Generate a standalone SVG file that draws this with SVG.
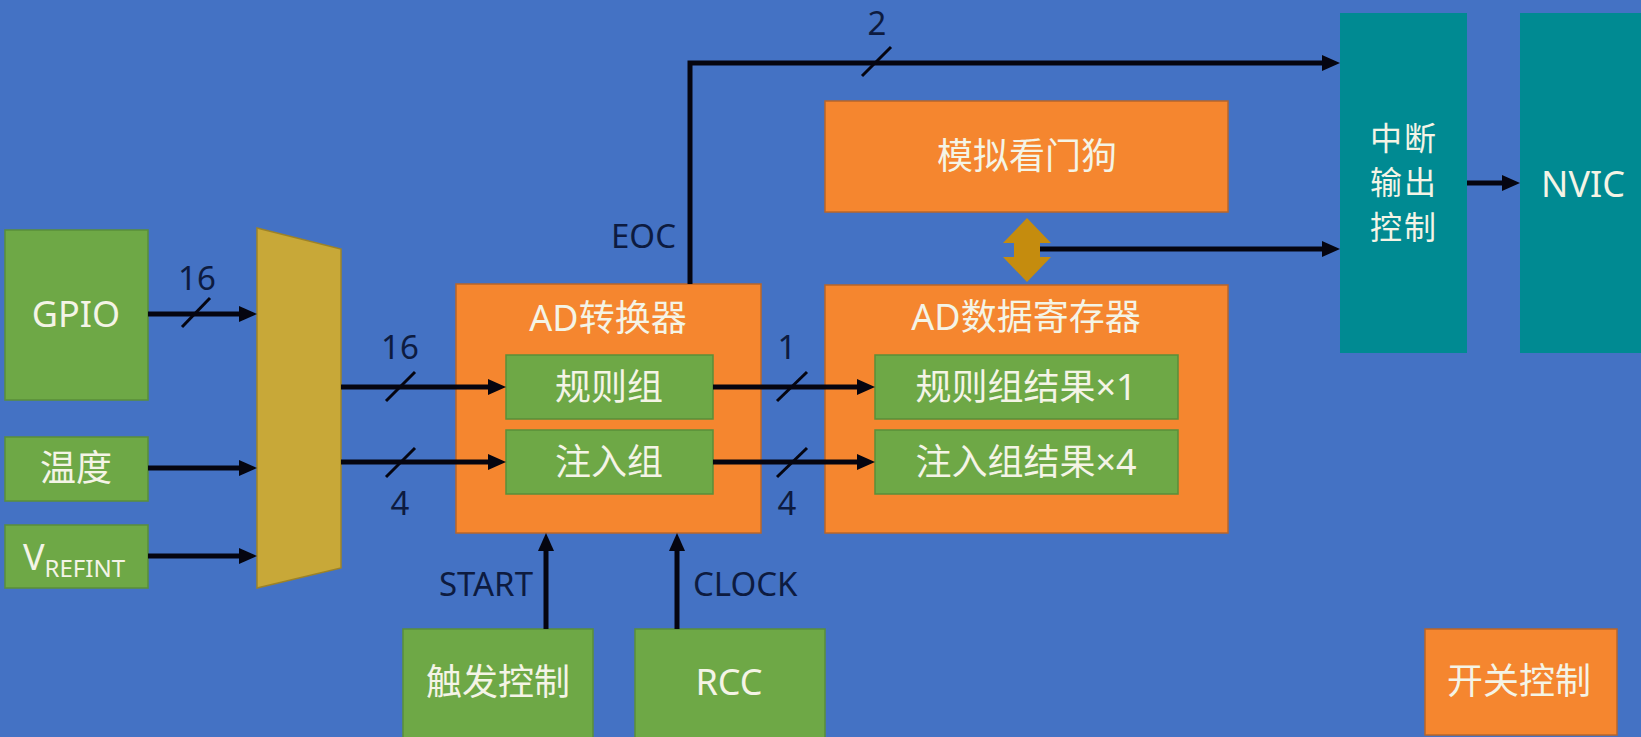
<svg xmlns="http://www.w3.org/2000/svg" width="1641" height="737" viewBox="0 0 1641 737">
<style>
.bg{fill:#4472C4}
.green{fill:#6EA846;stroke:#5A8E3A;stroke-width:1.5}
.orange{fill:#F5862F;stroke:#B8662A;stroke-width:1.5}
.teal{fill:#008A92}
.t{font-family:"Noto Sans","Noto Sans CJK SC",sans-serif;font-size:36px;fill:#F4F4E6;text-anchor:middle}
.tv{font-family:"Noto Sans CJK SC",sans-serif;font-size:32px;fill:#F4F4E6;text-anchor:middle;letter-spacing:2px}
.lbl{font-family:"Noto Sans","Noto Sans CJK SC",sans-serif;font-size:33px;fill:#0D1B40}
.wire{fill:none;stroke:#050510;stroke-width:5}
.slash{fill:none;stroke:#050510;stroke-width:3}
</style>
<defs>
<marker id="ah" markerUnits="userSpaceOnUse" markerWidth="20" markerHeight="18" refX="5" refY="9" orient="auto">
<path d="M0,1 L18,9 L0,17 z" fill="#050510"/>
</marker>
</defs>
<rect class="bg" x="0" y="0" width="1641" height="737"/>

<g id="gpio"><rect class="green" x="5" y="230" width="143" height="170"/><text class="t" x="76" y="327">GPIO</text></g>
<g id="temp"><rect class="green" x="5" y="437" width="143" height="64"/><text class="t" x="76" y="481">温度</text></g>
<g id="vrefint"><rect class="green" x="5" y="525" width="143" height="63"/><text class="t" x="74" y="570">V<tspan font-size="24" dy="7">REFINT</tspan></text></g>
<g id="mux"><polygon points="257,228 341,249 341,568 257,588" fill="#C8A838" stroke="#9C8228" stroke-width="1.5"/></g>

<g id="adc"><rect class="orange" x="456" y="284" width="305" height="249"/><text class="t" x="608" y="331">AD转换器</text>
<rect class="green" x="506" y="355" width="207" height="64"/><text class="t" x="609" y="400">规则组</text>
<rect class="green" x="506" y="430" width="207" height="64"/><text class="t" x="609" y="475">注入组</text></g>

<g id="watchdog"><rect class="orange" x="825" y="101" width="403" height="111"/><text class="t" x="1027" y="169">模拟看门狗</text></g>
<g id="adreg"><rect class="orange" x="825" y="285" width="403" height="248"/><text class="t" x="1026" y="330">AD数据寄存器</text>
<rect class="green" x="875" y="355" width="303" height="64"/><text class="t" x="1026" y="400">规则组结果×1</text>
<rect class="green" x="875" y="430" width="303" height="64"/><text class="t" x="1026" y="475">注入组结果×4</text></g>

<g id="intctrl"><rect class="teal" x="1340" y="13" width="127" height="340"/>
<text class="tv" x="1404" y="150">中断</text><text class="tv" x="1404" y="194">输出</text><text class="tv" x="1404" y="239">控制</text></g>
<g id="nvic"><rect class="teal" x="1520" y="13" width="130" height="340"/><text class="t" x="1583" y="197">NVIC</text></g>

<g id="trigger"><rect class="green" x="403" y="629" width="190" height="112"/><text class="t" x="498" y="695">触发控制</text></g>
<g id="rcc"><rect class="green" x="635" y="629" width="190" height="112"/><text class="t" x="729" y="695">RCC</text></g>
<g id="switch"><rect class="orange" x="1425" y="629" width="192" height="106"/><text class="t" x="1519" y="694">开关控制</text></g>

<g id="connectors">
<path class="wire" d="M148,314 H244" marker-end="url(#ah)"/>
<path class="wire" d="M148,468 H244" marker-end="url(#ah)"/>
<path class="wire" d="M148,556 H244" marker-end="url(#ah)"/>
<path class="wire" d="M341,387 H493" marker-end="url(#ah)"/>
<path class="wire" d="M341,462 H493" marker-end="url(#ah)"/>
<path class="wire" d="M713,387 H862" marker-end="url(#ah)"/>
<path class="wire" d="M713,462 H862" marker-end="url(#ah)"/>
<path class="wire" d="M690,284 V63 H1327" marker-end="url(#ah)"/>
<path class="wire" d="M1040,249 H1327" marker-end="url(#ah)"/>
<path class="wire" d="M1467,183 H1507" marker-end="url(#ah)"/>
<path class="wire" d="M546,629 V546" marker-end="url(#ah)"/>
<path class="wire" d="M677,629 V546" marker-end="url(#ah)"/>
<polygon points="1027,218 1051,243 1040,243 1040,257 1051,257 1027,282 1003,257 1014,257 1014,243 1003,243" fill="#C58C0E"/>
<path class="slash" d="M182,327 L210,298"/>
<path class="slash" d="M386,401 L415,372"/>
<path class="slash" d="M386,477 L415,448"/>
<path class="slash" d="M777,401 L807,372"/>
<path class="slash" d="M777,477 L807,448"/>
<path class="slash" d="M862,76 L891,47"/>
<text class="lbl" x="197" y="290" text-anchor="middle">16</text>
<text class="lbl" x="400" y="359" text-anchor="middle">16</text>
<text class="lbl" x="400" y="515" text-anchor="middle">4</text>
<text class="lbl" x="787" y="359" text-anchor="middle">1</text>
<text class="lbl" x="787" y="515" text-anchor="middle">4</text>
<text class="lbl" x="877" y="35" text-anchor="middle">2</text>
<text class="lbl" x="676" y="248" text-anchor="end">EOC</text>
<text class="lbl" x="533" y="596" text-anchor="end">START</text>
<text class="lbl" x="693" y="596">CLOCK</text>
</g>
</svg>
